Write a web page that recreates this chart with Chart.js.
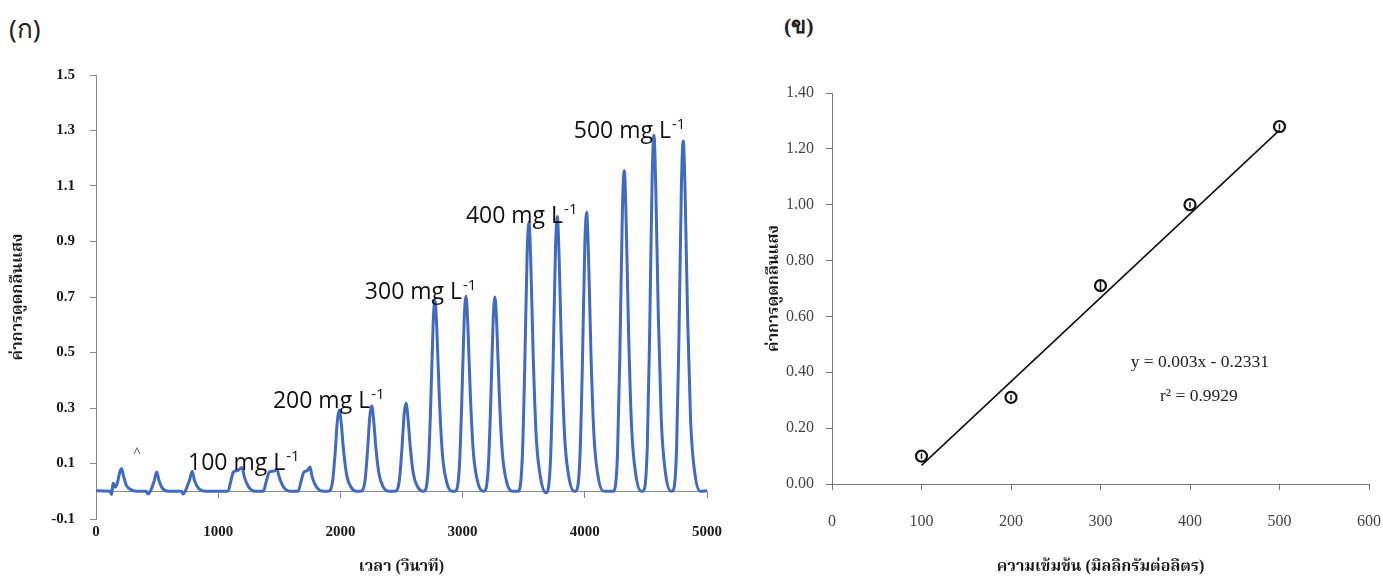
<!DOCTYPE html>
<html lang="th">
<head>
    <meta charset="UTF-8">
    <title>ค่าการดูดกลืนแสง</title>
    <script src="https://cdn.jsdelivr.net/npm/chart.js"></script>
    <style>
        body { margin: 0; background: #fff; width: 1383px; height: 578px; position: relative; overflow: hidden; }
        .panel { position: absolute; top: 0; height: 578px; }
        #panelA { left: 0; width: 740px; }
        #panelB { left: 740px; width: 663px; }
        .tag { position: absolute; top: 8px; color: #222; }
        #tagA { left: 9px; font: 26px "Noto Sans", "Open Sans", sans-serif; }
        #tagB { left: 784px; font: bold 22px "Liberation Serif", serif; }
    </style>
</head>
<body>
    <div id="tagA" class="tag">(ก)</div>
    <div id="tagB" class="tag">(ข)</div>
    <div id="panelA" class="panel"><canvas id="chartFia"></canvas></div>
    <div id="panelB" class="panel"><canvas id="chartCalib"></canvas></div>

    <script>
        // (ก) สัญญาณ FIA: เวลา (วินาที) กับค่าการดูดกลืนแสง
        const timeSec = [
            0, 60, 115, 128, 140, 155, 175, 195, 210, 225, 250, 290, 340,
            410, 425, 445, 475, 497, 515, 545, 600,
            700, 712, 730, 765, 788, 805, 840, 900,
            1080, 1100, 1125, 1160, 1194, 1215, 1250, 1300,
            1370, 1390, 1420, 1450, 1481, 1500, 1535, 1590,
            1655, 1675, 1700, 1730, 1751, 1770, 1805, 1860,
            1901, 1936, 1956, 1976, 1991, 2006, 2026, 2051, 2086, 2131,
            2166, 2201, 2221, 2241, 2256, 2271, 2291, 2316, 2351, 2396,
            2447, 2482, 2502, 2522, 2537, 2552, 2572, 2597, 2632, 2677,
            2684, 2719, 2739, 2759, 2774, 2789, 2809, 2834, 2869, 2914,
            2938, 2973, 2993, 3013, 3028, 3043, 3063, 3088, 3123, 3168,
            3175, 3210, 3230, 3250, 3265, 3280, 3300, 3325, 3360, 3405,
            3453, 3488, 3508, 3528, 3543, 3558, 3578, 3603, 3638, 3683,
            3686, 3720, 3740, 3760, 3775, 3790, 3810, 3835, 3870, 3915,
            3925, 3960, 3980, 4000, 4015, 4030, 4050, 4075, 4110, 4155,
            4233, 4268, 4288, 4308, 4323, 4338, 4358, 4383, 4418, 4463,
            4476, 4511, 4531, 4551, 4566, 4581, 4601, 4626, 4661, 4706,
            4716, 4751, 4771, 4791, 4806, 4821, 4841, 4866, 4901, 4946,
            5000
        ];
        const absorbance = [
            0.002, 0.001, 0.0, -0.012, 0.03, 0.015, 0.03, 0.07, 0.081, 0.055, 0.02, 0.005, 0.0,
            0.0, -0.01, 0.0, 0.035, 0.069, 0.04, 0.01, 0.0,
            0.0, -0.01, 0.0, 0.04, 0.072, 0.04, 0.01, 0.0,
            0.0, 0.03, 0.07, 0.075, 0.086, 0.05, 0.015, 0.0,
            0.0, 0.03, 0.07, 0.072, 0.078, 0.05, 0.015, 0.0,
            0.0, 0.03, 0.068, 0.075, 0.087, 0.05, 0.015, 0.0,
            0.0, 0.035, 0.132, 0.258, 0.293, 0.249, 0.147, 0.059, 0.015, 0.0,
            0.0, 0.037, 0.139, 0.271, 0.308, 0.262, 0.154, 0.062, 0.015, 0.0,
            0.0, 0.038, 0.143, 0.279, 0.317, 0.269, 0.159, 0.063, 0.016, 0.0,
            0.0, 0.083, 0.310, 0.605, 0.688, 0.585, 0.344, 0.138, 0.034, 0.0,
            0.0, 0.084, 0.316, 0.619, 0.703, 0.598, 0.352, 0.141, 0.035, 0.0,
            0.0, 0.084, 0.315, 0.616, 0.700, 0.595, 0.350, 0.140, 0.035, 0.0,
            0.0, 0.116, 0.437, 0.854, 0.970, 0.825, 0.485, 0.194, 0.049, -0.005,
            -0.005, 0.119, 0.446, 0.871, 0.990, 0.842, 0.495, 0.198, 0.050, 0.0,
            0.0, 0.121, 0.452, 0.884, 1.005, 0.854, 0.503, 0.201, 0.050, 0.0,
            0.0, 0.139, 0.520, 1.016, 1.155, 0.982, 0.578, 0.231, 0.058, 0.0,
            0.0, 0.154, 0.577, 1.129, 1.283, 1.091, 0.642, 0.257, 0.064, 0.0,
            0.0, 0.151, 0.568, 1.111, 1.262, 1.073, 0.631, 0.252, 0.063, 0.0,
            0.002
        ];
        const fiaTimeTicks = [0, 1000, 2000, 3000, 4000, 5000];
        const fiaAbsTicks = [-0.1, 0.1, 0.3, 0.5, 0.7, 0.9, 1.1, 1.3, 1.5];
        const peakLabels = ['100 mg L', '200 mg L', '300 mg L', '400 mg L', '500 mg L'];

        // (ข) กราฟมาตรฐาน
        const concMg = [100, 200, 300, 400, 500];
        const meanAbs = [0.10, 0.31, 0.71, 1.00, 1.28];
        const sdAbs = [0.01, 0.01, 0.02, 0.01, 0.01];
        const fitConc = [100, 500];
        const fitAbs = [0.0669, 1.2669];
        const calibConcTicks = [0, 100, 200, 300, 400, 500, 600];
        const calibAbsTicks = [0, 0.2, 0.4, 0.6, 0.8, 1.0, 1.2, 1.4];

        const serif = "'Liberation Serif', 'Noto Serif Thai', 'Noto Sans Thai', serif";
        const yTitle = 'ค่าการดูดกลืนแสง';

        // ป้ายกำกับความเข้มข้นบนกราฟ (ก) ตำแหน่งเป็นหน่วยข้อมูล
        const labelAnchors = [[753, 0.075], [1448, 0.301], [2200, 0.692], [3027, 0.968], [3910, 1.272]];

        const peakLabelPlugin = {
            id: 'peakLabels',
            afterDatasetsDraw(chart) {
                const { ctx, scales } = chart;
                ctx.save();
                ctx.fillStyle = '#111';
                ctx.textBaseline = 'alphabetic';
                ctx.textAlign = 'left';
                peakLabels.forEach((txt, i) => {
                    const px = scales.x.getPixelForValue(labelAnchors[i][0]);
                    const py = scales.y.getPixelForValue(labelAnchors[i][1]);
                    ctx.font = "23px 'Open Sans', sans-serif";
                    ctx.fillText(txt, px, py);
                    const w = ctx.measureText(txt).width;
                    ctx.font = "15px 'Open Sans', sans-serif";
                    ctx.fillText('-1', px + w + 1, py - 9);
                });
                // เครื่องหมายเล็ก ๆ ใกล้ยอดแรก
                ctx.font = "14px 'Open Sans', sans-serif";
                ctx.fillStyle = '#555';
                ctx.textAlign = 'center';
                ctx.fillText('^', scales.x.getPixelForValue(335), scales.y.getPixelForValue(0.12));
                ctx.restore();
            }
        };

        new Chart(document.getElementById('chartFia'), {
            type: 'line',
            data: {
                datasets: [{
                    data: timeSec.map((t, i) => ({ x: t, y: absorbance[i] })),
                    borderColor: '#416bc0',
                    borderWidth: 3,
                    pointRadius: 0,
                    cubicInterpolationMode: 'monotone',
                    fill: false
                }]
            },
            options: {
                responsive: true,
                maintainAspectRatio: false,
                animation: false,
                layout: { padding: { top: 75, right: 33, left: 0, bottom: 0 } },
                plugins: { legend: { display: false }, tooltip: { enabled: false } },
                scales: {
                    x: {
                        type: 'linear', min: 0, max: 5000,
                        position: { y: 0 },
                        afterBuildTicks: s => { s.ticks = fiaTimeTicks.map(v => ({ value: v })); },
                        ticks: { display: false },
                        grid: { drawOnChartArea: false, drawTicks: true, tickLength: 6, color: '#8a8a8a' },
                        border: { color: '#8a8a8a', width: 1 }
                    },
                    x2: {
                        type: 'linear', min: 0, max: 5000, position: 'bottom',
                        afterBuildTicks: s => { s.ticks = fiaTimeTicks.map(v => ({ value: v })); },
                        afterFit: s => { s.height = 59; },
                        ticks: { padding: 4, color: '#1a1a1a', font: { family: serif, size: 15, weight: 'bold' },
                                 callback: v => String(v) },
                        grid: { display: false, drawTicks: false },
                        border: { display: false },
                        title: { display: true, text: 'เวลา (วินาที)', color: '#1a1a1a', padding: { top: 0, bottom: 2 },
                                 font: { family: serif, size: 16, weight: 'bold' } }
                    },
                    y: {
                        min: -0.1, max: 1.5,
                        afterBuildTicks: s => { s.ticks = fiaAbsTicks.map(v => ({ value: v })); },
                        afterFit: s => { s.width = 96; },
                        ticks: { padding: 15, color: '#1a1a1a', font: { family: serif, size: 15, weight: 'bold' },
                                 callback: v => v.toFixed(1) },
                        grid: { drawOnChartArea: false, drawTicks: true, tickLength: 6, color: '#8a8a8a' },
                        border: { color: '#8a8a8a', width: 1 },
                        title: { display: true, text: yTitle, color: '#1a1a1a', padding: { top: 8, bottom: 8 },
                                 font: { family: serif, size: 16, weight: 'bold' } }
                    }
                }
            },
            plugins: [peakLabelPlugin]
        });

        // สมการถดถอยและแถบความคลาดเคลื่อน
        const eqAnchors = [[411, 0.437], [410, 0.315]];
        const eqText = ['y = 0.003x - 0.2331', 'r² = 0.9929'];

        const calibPlugin = {
            id: 'calibExtras',
            afterDatasetsDraw(chart) {
                const { ctx, scales } = chart;
                ctx.save();
                ctx.strokeStyle = '#111';
                ctx.lineWidth = 1.5;
                concMg.forEach((c, i) => {
                    const px = scales.x.getPixelForValue(c);
                    ctx.beginPath();
                    ctx.moveTo(px, scales.y.getPixelForValue(meanAbs[i] - sdAbs[i]));
                    ctx.lineTo(px, scales.y.getPixelForValue(meanAbs[i] + sdAbs[i]));
                    ctx.stroke();
                });
                ctx.fillStyle = '#222';
                ctx.font = "17.5px 'Liberation Serif', serif";
                ctx.textAlign = 'center';
                ctx.textBaseline = 'middle';
                eqText.forEach((t, i) => {
                    ctx.fillText(t, scales.x.getPixelForValue(eqAnchors[i][0]), scales.y.getPixelForValue(eqAnchors[i][1]));
                });
                ctx.restore();
            }
        };

        new Chart(document.getElementById('chartCalib'), {
            type: 'scatter',
            data: {
                datasets: [
                    {
                        data: concMg.map((c, i) => ({ x: c, y: meanAbs[i] })),
                        pointStyle: 'circle',
                        pointRadius: 5.5,
                        borderColor: '#111',
                        borderWidth: 2.2,
                        backgroundColor: 'rgba(255,255,255,0)',
                        order: 1
                    },
                    {
                        type: 'line',
                        data: fitConc.map((c, i) => ({ x: c, y: fitAbs[i] })),
                        borderColor: '#111',
                        borderWidth: 1.6,
                        pointRadius: 0,
                        fill: false,
                        order: 2
                    }
                ]
            },
            options: {
                responsive: true,
                maintainAspectRatio: false,
                animation: false,
                layout: { padding: { top: 93, right: 0, left: 0, bottom: 0 } },
                plugins: { legend: { display: false }, tooltip: { enabled: false } },
                scales: {
                    x: {
                        type: 'linear', min: 0, max: 600,
                        afterBuildTicks: s => { s.ticks = calibConcTicks.map(v => ({ value: v })); },
                        afterFit: s => { s.height = 94; },
                        ticks: { padding: 22, color: '#444', font: { family: serif, size: 16 },
                                 callback: v => String(v) },
                        grid: { drawOnChartArea: false, drawTicks: true, tickLength: 6, color: '#777' },
                        border: { color: '#777', width: 1 },
                        title: { display: true, text: 'ความเข้มข้น (มิลลิกรัมต่อลิตร)', color: '#1a1a1a', padding: { top: 0, bottom: 2 },
                                 font: { family: serif, size: 16, weight: 'bold' } }
                    },
                    y: {
                        min: 0, max: 1.4,
                        afterBuildTicks: s => { s.ticks = calibAbsTicks.map(v => ({ value: v })); },
                        afterFit: s => { s.width = 92; },
                        ticks: { padding: 12, color: '#444', font: { family: serif, size: 16 },
                                 callback: v => v.toFixed(2) },
                        grid: { drawOnChartArea: false, drawTicks: true, tickLength: 6, color: '#777' },
                        border: { color: '#777', width: 1 },
                        title: { display: true, text: yTitle, color: '#1a1a1a', padding: { top: 24, bottom: 4 },
                                 font: { family: serif, size: 16, weight: 'bold' } }
                    }
                }
            },
            plugins: [calibPlugin]
        });
    </script>
</body>
</html>
